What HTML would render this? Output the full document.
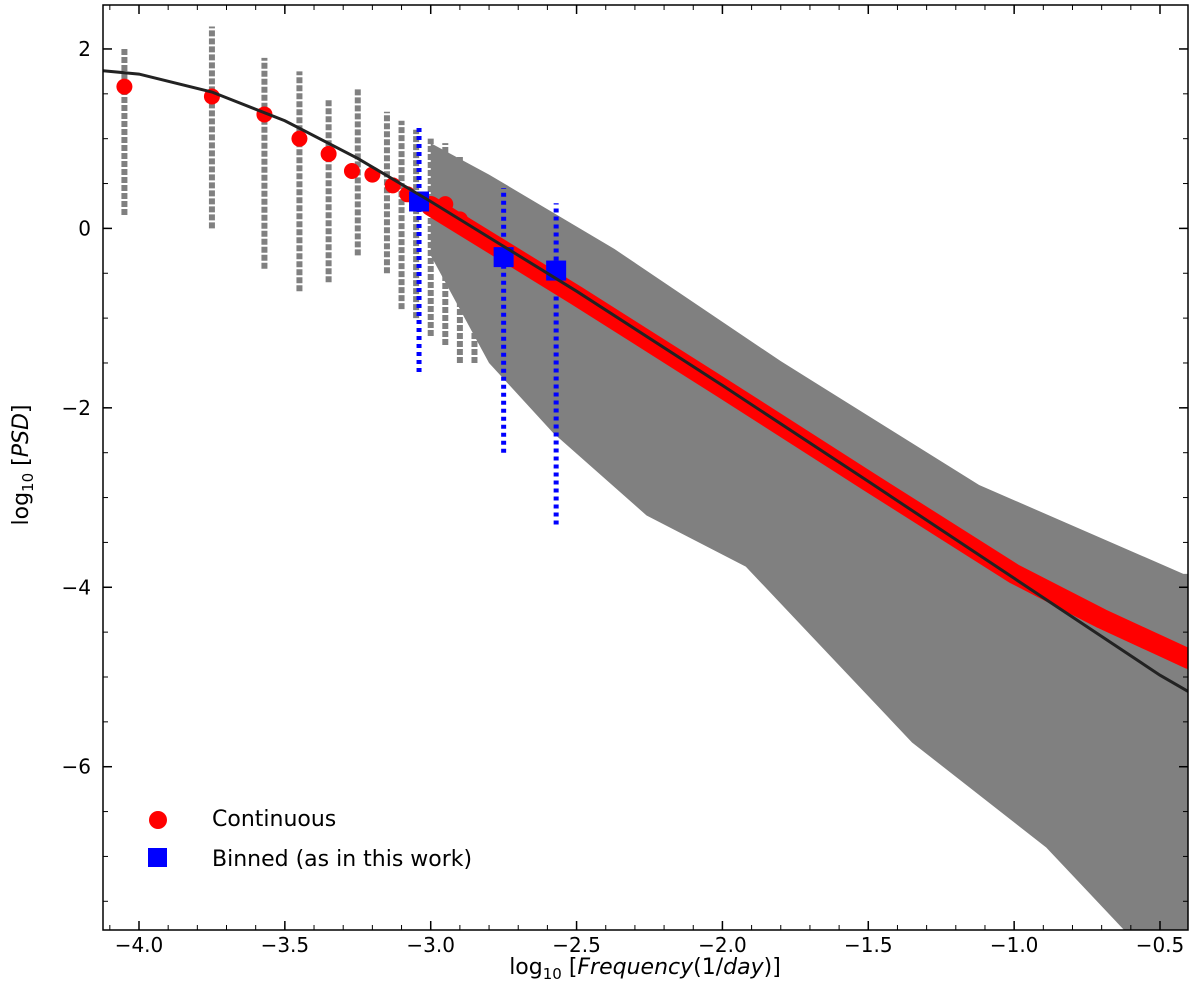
<!DOCTYPE html>
<html><head><meta charset="utf-8"><style>
html,body{margin:0;padding:0;background:#fff;}
svg{display:block;font-family:"DejaVu Sans","Liberation Sans",sans-serif;}
</style></head><body>
<svg id="chart" width="1200" height="988" viewBox="0 0 1200 988" xmlns="http://www.w3.org/2000/svg"></svg>
<script>
// ---- data ----
const xTicks = [-4.0,-3.5,-3.0,-2.5,-2.0,-1.5,-1.0,-0.5];
const xTickLabels = ["−4.0","−3.5","−3.0","−2.5","−2.0","−1.5","−1.0","−0.5"];
const yTicks = [2,0,-2,-4,-6];
const yTickLabels = ["2","0","−2","−4","−6"];
const modelX = [-4.2,-4.0,-3.75,-3.5,-3.25,-3.0,-2.75,-2.5,-2.0,-1.5,-1.0,-0.5,-0.33];
const modelY = [1.78,1.72,1.52,1.2,0.78,0.3,-0.2,-0.7,-1.75,-2.82,-3.9,-4.98,-5.3];
const redDotX = [-4.05,-3.75,-3.57,-3.45,-3.35,-3.27,-3.2,-3.13,-3.08,-2.98,-2.95,-2.9];
const redDotY = [1.58,1.47,1.27,1.0,0.83,0.64,0.6,0.48,0.38,0.2,0.27,0.1];
const redBandX = [-3.0,-2.5,-2.0,-1.5,-1.0,-0.7,-0.5,-0.4];
const redBandY = [0.25,-0.75,-1.78,-2.82,-3.85,-4.35,-4.65,-4.8];
const cloudUpX = [-3.0,-2.8,-2.37,-1.8,-1.12,-0.42,-0.3];
const cloudUpY = [0.95,0.6,-0.23,-1.48,-2.86,-3.85,-3.85];
const cloudLoX = [-3.0,-2.8,-2.58,-2.26,-1.92,-1.35,-0.89,-0.6,-0.3];
const cloudLoY = [-0.3,-1.5,-2.28,-3.2,-3.77,-5.73,-6.9,-7.9,-7.9];
const colX = [-4.05,-3.75,-3.57,-3.45,-3.35,-3.25,-3.15,-3.1,-3.05,-3.0,-2.95,-2.9,-2.85];
const colLo = [0.15,0.0,-0.45,-0.7,-0.6,-0.3,-0.5,-0.9,-1.0,-1.2,-1.3,-1.5,-1.5];
const colHi = [2.0,2.25,1.9,1.75,1.45,1.55,1.3,1.2,1.1,1.0,0.95,0.8,0.6];
const binX = [-3.04,-2.75,-2.57];
const binY = [0.3,-0.32,-0.47];
const binLo = [-1.6,-2.5,-3.3];
const binHi = [1.15,0.45,0.28];

// ---- axes ----
const L=103,R=1188,T=5,B=930;
const xMin=-4.1234,xMax=-0.404,yMin=-7.82,yMax=2.49;
const sx=v=>L+(v-xMin)/(xMax-xMin)*(R-L);
const sy=v=>B-(v-yMin)/(yMax-yMin)*(B-T);
const svg=document.getElementById('chart');
const NS='http://www.w3.org/2000/svg';
function mk(tag,attrs,name,parent){
  const e=document.createElementNS(NS,tag);
  for(const k in attrs)e.setAttribute(k,attrs[k]);
  
  
  (parent||svg).appendChild(e);return e;
}
const defs=mk('defs',{},'defs');
const cp=mk('clipPath',{id:'clip'},'clip',defs);
mk('rect',{x:L,y:T,width:R-L,height:B-T},'clip-rect',cp);
const g=mk('g',{'clip-path':'url(#clip)'},'plot-area');

// gray cloud
let pts=cloudUpX.map((x,i)=>sx(x)+','+sy(cloudUpY[i]));
for(let i=cloudLoX.length-1;i>=0;i--)pts.push(sx(cloudLoX[i])+','+sy(cloudLoY[i]));
mk('polygon',{points:pts.join(' '),fill:'#808080'},'gray-scatter-cloud',g);
colX.forEach((x,i)=>{
  mk('line',{x1:sx(x),x2:sx(x),y1:sy(colLo[i]),y2:sy(colHi[i]),stroke:'#808080','stroke-width':6,'stroke-dasharray':'6 2'},'gray-column',g);
});
// blue bins
binX.forEach((x,i)=>{
  mk('line',{x1:sx(x),x2:sx(x),y1:sy(binLo[i]),y2:sy(binHi[i]),stroke:'#0000ff','stroke-width':5,'stroke-dasharray':'4 4'},'binned-column',g);
});
// red band
mk('polyline',{points:redBandX.map((x,i)=>sx(x)+','+sy(redBandY[i])).join(' '),fill:'none',stroke:'#ff0000','stroke-width':20,'stroke-linecap':'round','stroke-linejoin':'round'},'continuous-band',g);
redDotX.forEach((x,i)=>{
  mk('circle',{cx:sx(x),cy:sy(redDotY[i]),r:8,fill:'#ff0000'},'continuous-point',g);
});
binX.forEach((x,i)=>{
  mk('rect',{x:sx(x)-10,y:sy(binY[i])-10,width:20,height:20,fill:'#0000ff'},'binned-point',g);
});
// model
mk('polyline',{points:modelX.map((x,i)=>sx(x)+','+sy(modelY[i])).join(' '),fill:'none',stroke:'#222','stroke-width':3},'model-line',g);

// frame and ticks
mk('rect',{x:L,y:T,width:R-L,height:B-T,fill:'none',stroke:'#000','stroke-width':1.5},'plot-frame');
for(let v=-4.1;v<=-0.4;v+=0.1){
  const x=sx(v);
  mk('line',{x1:x,x2:x,y1:B,y2:B-5,stroke:'#000','stroke-width':1},'x-minor-tick');
  mk('line',{x1:x,x2:x,y1:T,y2:T+5,stroke:'#000','stroke-width':1},'x-minor-tick-top');
}
for(let v=-7.5;v<=2.4;v+=0.5){
  const y=sy(v);
  mk('line',{x1:L,x2:L+5,y1:y,y2:y,stroke:'#000','stroke-width':1},'y-minor-tick');
  mk('line',{x1:R,x2:R-5,y1:y,y2:y,stroke:'#000','stroke-width':1},'y-minor-tick-right');
}
xTicks.forEach((v,i)=>{
  const x=sx(v);
  mk('line',{x1:x,x2:x,y1:B,y2:B-9,stroke:'#000','stroke-width':1.5},'x-tick');
  mk('line',{x1:x,x2:x,y1:T,y2:T+9,stroke:'#000','stroke-width':1.5},'x-tick-top');
  const t=mk('text',{x:x,y:B+22,'text-anchor':'middle','font-size':20,fill:'#000'},'x-tick-label');t.textContent=xTickLabels[i];
});
yTicks.forEach((v,i)=>{
  const y=sy(v);
  mk('line',{x1:L,x2:L+9,y1:y,y2:y,stroke:'#000','stroke-width':1.5},'y-tick');
  mk('line',{x1:R,x2:R-9,y1:y,y2:y,stroke:'#000','stroke-width':1.5},'y-tick-right');
  const t=mk('text',{x:L-12,y:y+7,'text-anchor':'end','font-size':20,fill:'#000'},'y-tick-label');t.textContent=yTickLabels[i];
});
// axis titles
const xt=mk('text',{x:645,y:974,'text-anchor':'middle','font-size':22,fill:'#000'},'x-axis-title');
xt.innerHTML='log<tspan font-size="15" dy="5">10</tspan><tspan dy="-5"> [</tspan><tspan font-style="italic">Frequency</tspan>(1/<tspan font-style="italic">day</tspan>)]';
const yt=mk('text',{x:0,y:0,'text-anchor':'middle','font-size':22,fill:'#000',transform:'translate(28,465) rotate(-90)'},'y-axis-title');
yt.innerHTML='log<tspan font-size="15" dy="5">10</tspan><tspan dy="-5"> [</tspan><tspan font-style="italic">PSD</tspan>]';
// legend
mk('circle',{cx:158,cy:820,r:9,fill:'#ff0000'},'legend-continuous-marker');
const l1=mk('text',{x:212,y:826,'font-size':22,fill:'#000'},'legend-continuous-label');l1.textContent='Continuous';
mk('rect',{x:148,y:848,width:19,height:19,fill:'#0000ff'},'legend-binned-marker');
const l2=mk('text',{x:212,y:866,'font-size':22,fill:'#000'},'legend-binned-label');l2.textContent='Binned (as in this work)';
</script>
</body></html>
